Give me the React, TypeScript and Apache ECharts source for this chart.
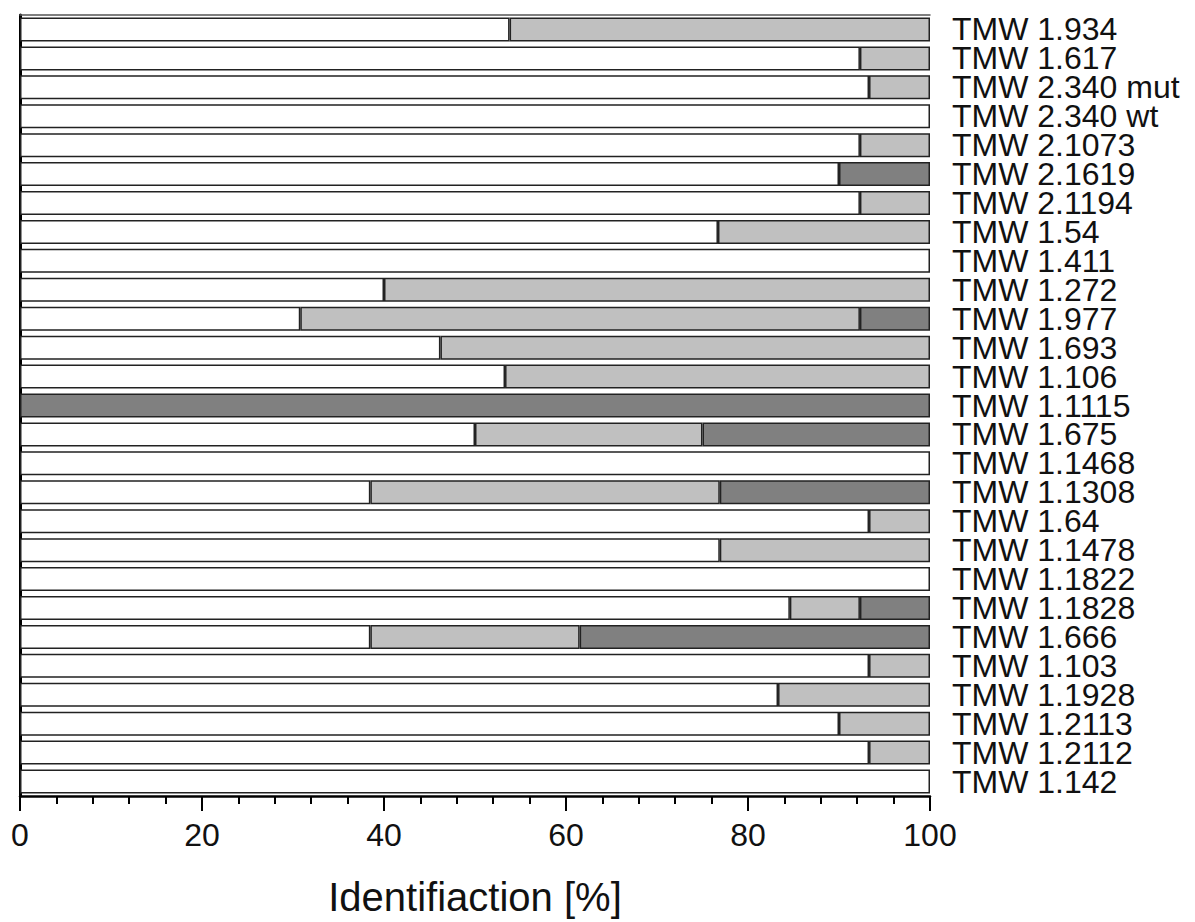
import React, { useEffect, useRef } from "react";
import * as echarts from "echarts";

// Strain names, listed top to bottom
const strains = [
  "TMW 1.934",
  "TMW 1.617",
  "TMW 2.340 mut",
  "TMW 2.340 wt",
  "TMW 2.1073",
  "TMW 2.1619",
  "TMW 2.1194",
  "TMW 1.54",
  "TMW 1.411",
  "TMW 1.272",
  "TMW 1.977",
  "TMW 1.693",
  "TMW 1.106",
  "TMW 1.1115",
  "TMW 1.675",
  "TMW 1.1468",
  "TMW 1.1308",
  "TMW 1.64",
  "TMW 1.1478",
  "TMW 1.1822",
  "TMW 1.1828",
  "TMW 1.666",
  "TMW 1.103",
  "TMW 1.1928",
  "TMW 1.2113",
  "TMW 1.2112",
  "TMW 1.142",
];

// Share of identifications per strain [%]
const whiteShare = [
  53.8, 92.3, 93.3, 100, 92.3, 90, 92.3, 76.7, 100, 40, 30.8, 46.2, 53.3, 0,
  50, 100, 38.5, 93.3, 76.9, 100, 84.6, 38.5, 93.3, 83.3, 90, 93.3, 100,
];
const lightShare = [
  46.2, 7.7, 6.7, 0, 7.7, 0, 7.7, 23.3, 0, 60, 61.5, 53.8, 46.7, 0, 25, 0,
  38.4, 6.7, 23.1, 0, 7.7, 23.0, 6.7, 16.7, 10, 6.7, 0,
];
const darkShare = [
  0, 0, 0, 0, 0, 10, 0, 0, 0, 0, 7.7, 0, 0, 100, 25, 0, 23.1, 0, 0, 0, 7.7,
  38.5, 0, 0, 0, 0, 0,
];

const xTicks = { min: 0, max: 100, interval: 20 };

const FONT = "'Liberation Sans', Arial, Helvetica, sans-serif";

export default function App() {
  const ref = useRef<HTMLDivElement>(null);

  useEffect(() => {
    if (!ref.current) return;
    const chart = echarts.init(ref.current, null, { renderer: "svg" });

    const seg = (name: string, values: number[], color: string) => ({
      name,
      type: "bar" as const,
      stack: "total",
      xAxisIndex: 0,
      yAxisIndex: 0,
      barCategoryGap: "17%",
      data: values.map((v) => (v === 0 ? "-" : v)),
      itemStyle: { color, borderColor: "#222", borderWidth: 1.5 },
      emphasis: { disabled: true },
    });

    chart.setOption({
      animation: false,
      backgroundColor: "#ffffff",
      grid: { left: 20, top: 15, width: 910, height: 784 },
      xAxis: [
        {
          type: "value",
          position: "bottom",
          min: xTicks.min,
          max: xTicks.max,
          interval: xTicks.interval,
          axisLine: { show: true, lineStyle: { color: "#000", width: 2.5 } },
          axisTick: {
            show: true,
            length: 15,
            lineStyle: { color: "#000", width: 2 },
          },
          minorTick: {
            show: true,
            splitNumber: 5,
            length: 8,
            lineStyle: { color: "#000", width: 2 },
          },
          splitLine: { show: false },
          axisLabel: {
            fontFamily: FONT,
            fontSize: 32,
            color: "#111",
            margin: 23,
          },
          name: "Identifiaction [%]",
          nameLocation: "middle",
          nameGap: 81,
          nameTextStyle: { fontFamily: FONT, fontSize: 40, color: "#111" },
        },
        {
          type: "value",
          position: "top",
          min: xTicks.min,
          max: xTicks.max,
          axisLine: { show: true, lineStyle: { color: "#555", width: 1.5 } },
          axisTick: { show: false },
          axisLabel: { show: false },
          splitLine: { show: false },
        },
      ],
      yAxis: [
        {
          type: "category",
          position: "right",
          inverse: true,
          data: strains,
          axisLine: { show: true, lineStyle: { color: "#333", width: 1.5 } },
          axisTick: { show: false },
          axisLabel: {
            interval: 0,
            hideOverlap: false,
            fontFamily: FONT,
            fontSize: 32,
            lineHeight: 28,
            color: "#111",
            margin: 22,
          },
        },
        {
          type: "category",
          position: "left",
          inverse: true,
          data: strains,
          axisLine: { show: true, lineStyle: { color: "#000", width: 3 } },
          axisTick: { show: false },
          axisLabel: { show: false },
        },
      ],
      series: [
        seg("white", whiteShare, "#ffffff"),
        seg("light", lightShare, "#c0c0c0"),
        seg("dark", darkShare, "#808080"),
      ],
    });

    return () => chart.dispose();
  }, []);

  return (
    <div
      ref={ref}
      style={{
        position: "fixed",
        left: 0,
        top: 0,
        width: 1195,
        height: 922,
        background: "#fff",
      }}
    />
  );
}
